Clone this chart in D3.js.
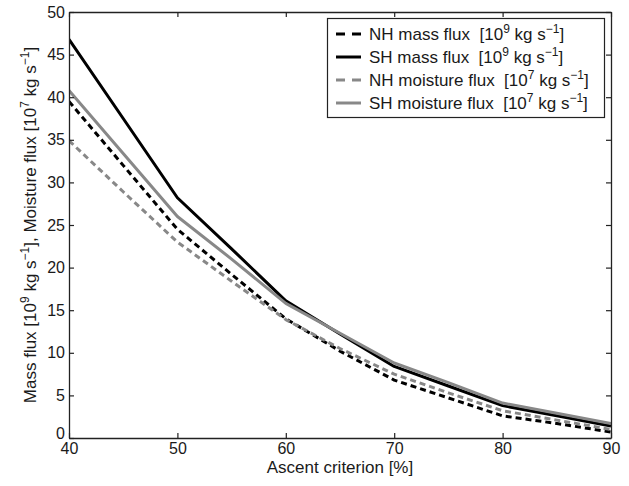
<!DOCTYPE html>
<html>
<head>
<meta charset="utf-8">
<script src="https://cdn.jsdelivr.net/npm/d3@7"></script>
<style>
  body { margin: 0; background: #fff; }
  svg { display: block; font-family: "Liberation Sans", Arial, Helvetica, sans-serif; }
  .axis-title { font-size: 17px; fill: #1a1a1a; }
  .legend-text { font-size: 17px; fill: #1a1a1a; }
</style>
</head>
<body>
<svg id="chart" width="629" height="486"></svg>
<script>
const criterion = [40, 45, 50, 55, 60, 65, 70, 75, 80, 85, 90];

const nhMass = [39.5, 32.0, 24.5, 19.2, 14.0, 10.2, 6.8, 4.7, 2.6, 1.7, 0.7];
const shMass = [46.8, 37.5, 28.2, 22.2, 16.1, 12.2, 8.4, 6.1, 3.8, 2.6, 1.4];
const nhMoisture = [34.9, 28.9, 23.0, 18.4, 13.9, 10.5, 7.5, 5.3, 3.2, 2.1, 1.0];
const shMoisture = [40.8, 33.4, 26.0, 21.0, 15.8, 12.3, 8.8, 6.5, 4.1, 2.9, 1.7];

const xTicks = [40, 50, 60, 70, 80, 90];
const yTicks = [0, 5, 10, 15, 20, 25, 30, 35, 40, 45, 50];

const series = [
  { name: "NH mass", values: nhMass, exp: "9", color: "#000", dash: "6,4" },
  { name: "SH mass", values: shMass, exp: "9", color: "#000", dash: null },
  { name: "NH moisture", values: nhMoisture, exp: "7", color: "#888", dash: "6,4" },
  { name: "SH moisture", values: shMoisture, exp: "7", color: "#888", dash: null },
];

const margin = { left: 69, right: 18, top: 12, bottom: 48 };
const width = 629, height = 486;

const svg = d3.select("#chart");
const x = d3.scaleLinear().domain([40, 90]).range([margin.left, width - margin.right]);
const y = d3.scaleLinear().domain([0, 50]).range([height - margin.bottom, margin.top]);

const axisColor = "#222";
const tickLen = 5;

const line = d3.line()
  .x((d, i) => x(criterion[i]))
  .y((d) => y(d));

const plot = svg.append("g");
plot.append("clipPath").attr("id", "clip")
  .append("rect")
  .attr("x", x(40)).attr("y", y(50))
  .attr("width", x(90) - x(40)).attr("height", y(0) - y(50));

plot.selectAll(".series")
  .data(series)
  .join("path")
  .attr("class", "series")
  .attr("clip-path", "url(#clip)")
  .attr("fill", "none")
  .attr("stroke", (d) => d.color)
  .attr("stroke-width", 3)
  .attr("stroke-linejoin", "round")
  .attr("stroke-dasharray", (d) => d.dash)
  .attr("d", (d) => line(d.values));

// matlab-style box: inward ticks on all four sides
const bottomAxis = svg.append("g")
  .attr("transform", `translate(0,${y(0)})`)
  .call(d3.axisBottom(x).tickValues(xTicks).tickSizeInner(-tickLen).tickSizeOuter(0).tickPadding(5));
const topAxis = svg.append("g")
  .attr("transform", `translate(0,${y(50)})`)
  .call(d3.axisTop(x).tickValues(xTicks).tickSizeInner(-tickLen).tickSizeOuter(0).tickFormat(""));
const leftAxis = svg.append("g")
  .attr("transform", `translate(${x(40)},0)`)
  .call(d3.axisLeft(y).tickValues(yTicks).tickSizeInner(-tickLen).tickSizeOuter(0).tickPadding(4));
const rightAxis = svg.append("g")
  .attr("transform", `translate(${x(90)},0)`)
  .call(d3.axisRight(y).tickValues(yTicks).tickSizeInner(-tickLen).tickSizeOuter(0).tickFormat(""));

[bottomAxis, topAxis, leftAxis, rightAxis].forEach((g) => {
  g.select(".domain").attr("stroke", axisColor).attr("stroke-width", 1.3);
  g.selectAll(".tick line").attr("stroke", axisColor).attr("stroke-width", 1.2);
  g.selectAll(".tick text")
    .attr("fill", "#1a1a1a")
    .style("font-size", "16px")
    .style("font-family", "'Liberation Sans', Arial, sans-serif");
});
// the 0 label sits a little high so it clears the 40 below it
leftAxis.selectAll(".tick text").filter((d) => d === 0).attr("dy", "0.05em");

svg.append("text")
  .attr("class", "axis-title")
  .attr("x", x(65))
  .attr("y", 473)
  .attr("text-anchor", "middle")
  .text("Ascent criterion [%]");

function addUnit(textSel, exp) {
  textSel.append("tspan").text("[10");
  textSel.append("tspan").attr("dy", -7).style("font-size", "12px").text(exp);
  textSel.append("tspan").attr("dy", 7).text(" kg s");
  textSel.append("tspan").attr("dy", -7).style("font-size", "12px").text("\u22121");
  textSel.append("tspan").attr("dy", 7).text("]");
}

const yTitle = svg.append("text")
  .attr("class", "axis-title")
  .attr("transform", `translate(36,${(y(0) + y(50)) / 2}) rotate(-90)`)
  .attr("text-anchor", "middle");
yTitle.append("tspan").text("Mass flux ");
addUnit(yTitle, "9");
yTitle.append("tspan").text(", Moisture flux ");
addUnit(yTitle, "7");

// legend
const legend = svg.append("g");
legend.append("rect")
  .attr("x", 327.5).attr("y", 18.5)
  .attr("width", 277).attr("height", 99)
  .attr("fill", "#fff")
  .attr("stroke", axisColor)
  .attr("stroke-width", 1.2);

const rowY = d3.scalePoint().domain(series.map((d) => d.name)).range([34, 103]);

const rows = legend.selectAll(".legend-row")
  .data(series)
  .join("g")
  .attr("class", "legend-row")
  .attr("transform", (d) => `translate(0,${rowY(d.name)})`);

rows.append("line")
  .attr("x1", 336).attr("x2", 361)
  .attr("stroke", (d) => d.color)
  .attr("stroke-width", 3)
  .attr("stroke-dasharray", (d) => (d.dash ? "9,7" : null));

rows.append("text")
  .attr("class", "legend-text")
  .attr("x", 369)
  .attr("y", 6)
  .each(function (d) {
    const t = d3.select(this);
    t.append("tspan").text(`${d.name} flux\u00a0\u00a0`);
    addUnit(t, d.exp);
  });
</script>
</body>
</html>
